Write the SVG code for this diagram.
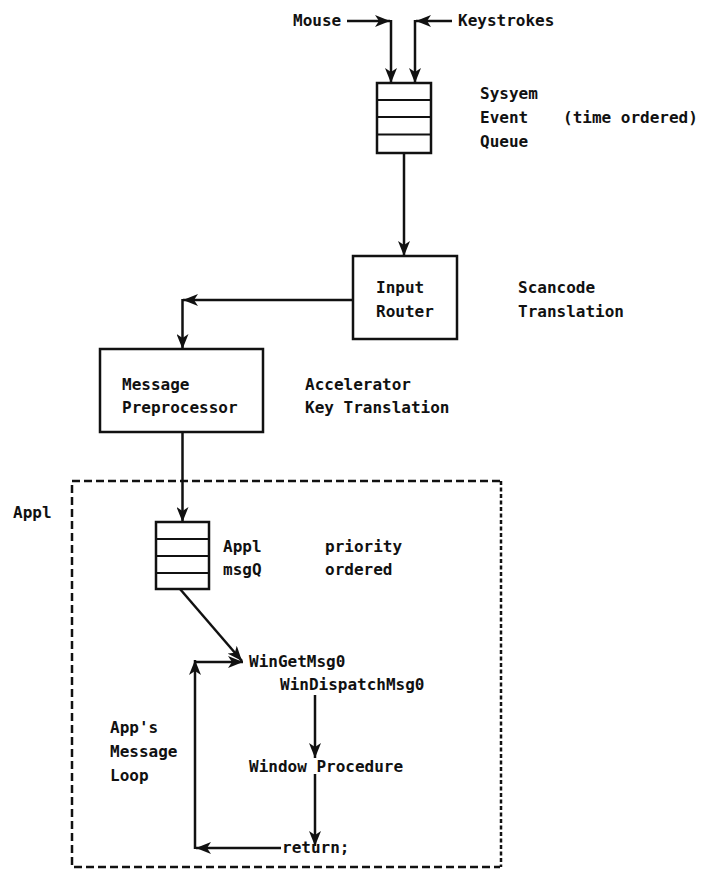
<svg xmlns="http://www.w3.org/2000/svg" width="706" height="870" viewBox="0 0 706 870">
  <style>
    text { font-family: "DejaVu Sans Mono", "Liberation Mono", monospace; font-size: 16px; font-weight: bold; fill: #111; }
    .box { fill: #fff; stroke: #111; stroke-width: 2.5; }
    .sep { stroke: #111; stroke-width: 2; }
    .arr { fill: none; stroke: #111; stroke-width: 2.5; marker-end: url(#ah); }
    .dash { fill: none; stroke: #111; stroke-width: 2.5; stroke-dasharray: 8 4; }
    .dash2 { fill: none; stroke: #111; stroke-width: 2.5; stroke-dasharray: 4 2.5; }
  </style>
  <defs>
    <marker id="ah" markerUnits="userSpaceOnUse" markerWidth="16" markerHeight="12" refX="15" refY="6" orient="auto">
      <path d="M0,0 L15,6 L0,12 L4,6 z" fill="#111"/>
    </marker>
  </defs>
  <rect width="706" height="870" fill="#fff"/>

  <g id="appl-boundary">
    <path class="dash" d="M500,481 L72,481 L72,867 L500,867"/>
    <path class="dash2" d="M501,481 L501,867"/>
    <text x="13" y="518">Appl</text>
  </g>

  <g id="connectors">
    <line class="arr" x1="347" y1="21" x2="390" y2="21"/>
    <line class="arr" x1="391" y1="20" x2="391" y2="83"/>
    <line class="arr" x1="452" y1="21" x2="416" y2="21"/>
    <line class="arr" x1="415" y1="20" x2="415" y2="83"/>
    <line class="arr" x1="404" y1="153" x2="404" y2="256"/>
    <line class="arr" x1="353" y1="300" x2="183" y2="300"/>
    <line class="arr" x1="182.5" y1="299" x2="182.5" y2="349"/>
    <line class="arr" x1="182.5" y1="432" x2="182.5" y2="522"/>
    <line class="arr" x1="180" y1="589" x2="242" y2="661"/>
    <line class="arr" x1="315" y1="695" x2="315" y2="758"/>
    <line class="arr" x1="315" y1="774" x2="315" y2="846"/>
    <line class="arr" x1="281" y1="848" x2="196" y2="848"/>
    <line class="arr" x1="195" y1="849" x2="195" y2="660"/>
    <line class="arr" x1="194" y1="662" x2="243" y2="662"/>
  </g>

  <g id="mouse"><text x="293" y="26">Mouse</text></g>
  <g id="keystrokes"><text x="458" y="26">Keystrokes</text></g>

  <g id="system-event-queue">
    <rect class="box" x="377" y="83" width="54" height="70"/>
    <line class="sep" x1="377" y1="100" x2="431" y2="100"/>
    <line class="sep" x1="377" y1="117" x2="431" y2="117"/>
    <line class="sep" x1="377" y1="134.5" x2="431" y2="134.5"/>
    <text x="480" y="99">Sysyem</text>
    <text x="480" y="123">Event</text>
    <text x="563" y="123">(time ordered)</text>
    <text x="480" y="147">Queue</text>
  </g>

  <g id="input-router">
    <rect class="box" x="353" y="256" width="104" height="83"/>
    <text x="376" y="293">Input</text>
    <text x="376" y="317">Router</text>
    <text x="518" y="293">Scancode</text>
    <text x="518" y="317">Translation</text>
  </g>

  <g id="message-preprocessor">
    <rect class="box" x="100" y="349" width="163" height="83"/>
    <text x="122" y="390">Message</text>
    <text x="122" y="413">Preprocessor</text>
    <text x="305" y="390">Accelerator</text>
    <text x="305" y="413">Key Translation</text>
  </g>

  <g id="appl-msgq">
    <rect class="box" x="156" y="522" width="53" height="67"/>
    <line class="sep" x1="156" y1="539" x2="209" y2="539"/>
    <line class="sep" x1="156" y1="556" x2="209" y2="556"/>
    <line class="sep" x1="156" y1="573" x2="209" y2="573"/>
    <text x="223" y="552">Appl</text>
    <text x="223" y="575">msgQ</text>
    <text x="325" y="552">priority</text>
    <text x="325" y="575">ordered</text>
  </g>

  <g id="win-get-msg"><text x="249" y="667">WinGetMsg0</text></g>
  <g id="win-dispatch-msg"><text x="280" y="690">WinDispatchMsg0</text></g>
  <g id="window-procedure"><text x="249" y="772">Window Procedure</text></g>
  <g id="return"><text x="282" y="853">return;</text></g>
  <g id="message-loop-label">
    <text x="110" y="733">App's</text>
    <text x="110" y="757">Message</text>
    <text x="110" y="781">Loop</text>
  </g>
</svg>
